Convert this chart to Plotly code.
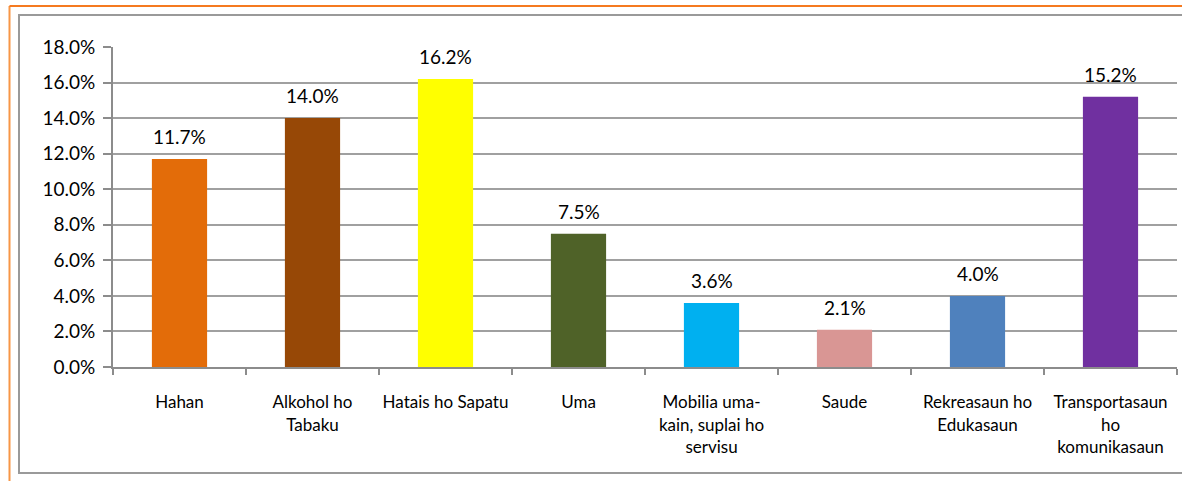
import plotly.graph_objects as go

categories = ["Hahan", "Alkohol ho<br>Tabaku", "Hatais ho Sapatu", "Uma",
              "Mobilia uma-<br>kain, suplai ho<br>servisu", "Saude",
              "Rekreasaun ho<br>Edukasaun", "Transportasaun<br>ho<br>komunikasaun"]
values = [11.7, 14.0, 16.2, 7.5, 3.6, 2.1, 4.0, 15.2]
colors = ["#E36C09", "#974806", "#FFFF00", "#4F6228", "#00B0F0", "#D99694", "#4F81BD", "#7030A0"]
tick_vals = [0, 2, 4, 6, 8, 10, 12, 14, 16, 18]
tick_text = ["0.0%", "2.0%", "4.0%", "6.0%", "8.0%", "10.0%", "12.0%", "14.0%", "16.0%", "18.0%"]

W, H = 1182, 481
L, R, T, B = 113, 5, 47, 114
pw, ph = W - L - R, H - T - B
FONT = "Lato"

def px_x(x):
    return (x - L) / pw

def px_y(y):
    return (H - B - y) / ph

fig = go.Figure()
fig.add_trace(go.Bar(
    x=categories, y=values, marker=dict(color=colors, line=dict(width=0)),
    hoverinfo="skip"))

for c, v in zip(categories, values):
    fig.add_annotation(x=c, y=v, text=f"{v:.1f}%", showarrow=False,
                       yanchor="bottom", yshift=9,
                       font=dict(family=FONT, size=19, color="#000000"))

# outer orange border and inner gray border
fig.add_shape(type="line", xref="paper", yref="paper",
              x0=px_x(9.5), x1=px_x(9.5), y0=px_y(6), y1=px_y(490),
              line=dict(color="#F79646", width=2))
fig.add_shape(type="line", xref="paper", yref="paper",
              x0=px_x(9.5), x1=px_x(1190), y0=px_y(6), y1=px_y(6),
              line=dict(color="#F57A20", width=2))
fig.add_shape(type="rect", xref="paper", yref="paper",
              x0=px_x(19), x1=px_x(1195), y0=px_y(15), y1=px_y(473),
              line=dict(color="#9A9A9A", width=2), fillcolor="rgba(0,0,0,0)")

fig.update_layout(
    width=W, height=H,
    margin=dict(l=L, r=R, t=T, b=B, pad=0),
    plot_bgcolor="white", paper_bgcolor="white",
    bargap=0.585, showlegend=False,
    font=dict(family=FONT, color="#000000"),
)
fig.update_yaxes(range=[0, 18], tickvals=tick_vals, ticktext=tick_text,
                 showgrid=True, gridcolor="#A0A0A0", gridwidth=2,
                 showline=True, linecolor="#8C8C8C", linewidth=2,
                 ticks="outside", ticklen=8, tickcolor="#8C8C8C", tickwidth=1.5,
                 tickfont=dict(family=FONT, size=19, color="#000000"),
                 ticklabelstandoff=4,
                 zeroline=False, fixedrange=True)
fig.update_xaxes(showline=True, linecolor="#8C8C8C", linewidth=2,
                 ticks="outside", tickson="boundaries", ticklen=6,
                 tickcolor="#8C8C8C", tickwidth=1.5,
                 tickfont=dict(family=FONT, size=17, color="#000000"),
                 ticklabelstandoff=19, tickangle=0, fixedrange=True)

fig.write_html("out.html")
